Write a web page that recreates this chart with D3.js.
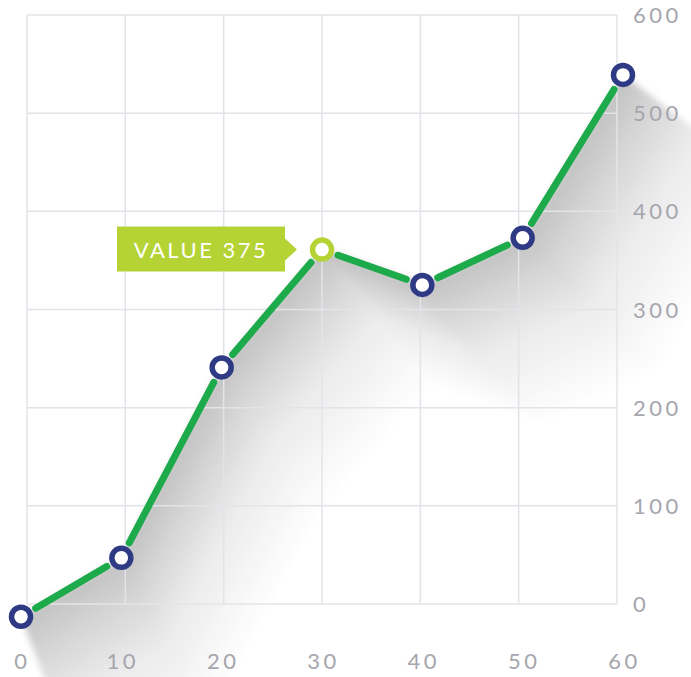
<!DOCTYPE html>
<html>
<head>
<meta charset="utf-8">
<script src="https://cdn.jsdelivr.net/npm/d3@7"></script>
<style>
  body { margin: 0; background: #fff; }
  text { font-family: Lato, "Open Sans", sans-serif; }
</style>
</head>
<body>
<svg id="chart"></svg>
<script>
const xTicks = [0, 10, 20, 30, 40, 50, 60];
const yTicks = [0, 100, 200, 300, 400, 500, 600];
const xValues = [0, 10, 20, 30, 40, 50, 60];
const yValues = [-13, 47, 241, 361, 325, 373, 539];
const highlightIndex = 3;
const tooltipText = "VALUE 375";

const width = 691;
const height = 677;

const svg = d3.select("#chart").attr("width", width).attr("height", height);

svg
  .append("defs")
  .append("filter")
  .attr("id", "soft")
  .attr("x", "-10%").attr("y", "-10%").attr("width", "120%").attr("height", "120%")
  .append("feGaussianBlur")
  .attr("stdDeviation", 3);

// grid sits slightly inside the point/label positions
const gridX = d3.scaleLinear().domain([0, 60]).range([27, 617]);
const xScale = d3.scaleLinear().domain([0, 60]).range([21, 623]);
const yScale = d3.scaleLinear().domain([0, 600]).range([604, 15]);

const pts = xValues.map((x, i) => [xScale(x), yScale(yValues[i])]);

// soft shadow: the line pushed away from a light far top-left
const light = [-519, -790];
const steps = 100;
const reach = 0.13;
const shade = d3
  .scaleLinear()
  .domain([0, 0.2, 0.5, 1])
  .range(["#c2c2c2", "#d5d5d5", "#ececec", "#ffffff"])
  .clamp(true);
const shadowG = svg.append("g").attr("filter", "url(#soft)");
for (let i = steps; i >= 1; i--) {
  const k = (reach * i) / steps;
  const proj = pts.map((p) => [light[0] + (1 + k) * (p[0] - light[0]), light[1] + (1 + k) * (p[1] - light[1])]);
  shadowG
    .append("path")
    .attr("d", d3.line()(proj))
    .attr("fill", "none")
    .attr("stroke", shade(i / steps))
    .attr("stroke-width", 4)
    .attr("stroke-linejoin", "round");
}

// grid
const grid = svg.append("g").attr("stroke", "#e3e3ea").attr("stroke-width", 1.5);
grid
  .selectAll("line.v")
  .data(xTicks)
  .join("line")
  .attr("x1", (d) => gridX(d))
  .attr("x2", (d) => gridX(d))
  .attr("y1", yScale(600))
  .attr("y2", yScale(0));
grid
  .selectAll("line.h")
  .data(yTicks)
  .join("line")
  .attr("x1", gridX(0))
  .attr("x2", gridX(60))
  .attr("y1", (d) => yScale(d))
  .attr("y2", (d) => yScale(d));

// axis labels
svg
  .append("g")
  .selectAll("text")
  .data(yTicks)
  .join("text")
  .attr("x", 633)
  .attr("y", (d) => yScale(d) + 8)
  .attr("fill", "#a6a6ad")
  .attr("font-size", 22)
  .attr("letter-spacing", 3.5)
  .text((d) => d);

svg
  .append("g")
  .selectAll("text")
  .data(xTicks)
  .join("text")
  .attr("x", (d) => xScale(d) + 1.5)
  .attr("y", 669)
  .attr("text-anchor", "middle")
  .attr("fill", "#a6a6ad")
  .attr("font-size", 22)
  .attr("letter-spacing", 3.5)
  .text((d) => d);

// line segments, trimmed so they stop short of the markers
const gap = 17;
const segs = d3.pairs(pts).map(([a, b]) => {
  const dx = b[0] - a[0], dy = b[1] - a[1];
  const len = Math.hypot(dx, dy);
  const ux = dx / len, uy = dy / len;
  return [[a[0] + ux * gap, a[1] + uy * gap], [b[0] - ux * gap, b[1] - uy * gap]];
});
svg
  .append("g")
  .selectAll("line")
  .data(segs)
  .join("line")
  .attr("x1", (d) => d[0][0])
  .attr("y1", (d) => d[0][1])
  .attr("x2", (d) => d[1][0])
  .attr("y2", (d) => d[1][1])
  .attr("stroke", "#1daa4b")
  .attr("stroke-width", 7)
  .attr("stroke-linecap", "round");

// markers
svg
  .append("g")
  .selectAll("circle")
  .data(pts)
  .join("circle")
  .attr("cx", (d) => d[0])
  .attr("cy", (d) => d[1])
  .attr("r", 9.5)
  .attr("fill", "#fff")
  .attr("stroke", (d, i) => (i === highlightIndex ? "#b5d334" : "#2e3a84"))
  .attr("stroke-width", 5.5);

// tooltip
const hp = pts[highlightIndex];
const tipRight = hp[0] - 37;
const tipW = 168, tipH = 45;
const tip = svg.append("g");
tip
  .append("path")
  .attr(
    "d",
    `M${tipRight - tipW},${hp[1] - 23}H${tipRight}V${hp[1] - 11}L${tipRight + 12},${hp[1]}L${tipRight},${hp[1] + 11}V${hp[1] + 22}H${tipRight - tipW}Z`
  )
  .attr("fill", "#b5d334");
tip
  .append("text")
  .attr("x", tipRight - tipW / 2)
  .attr("y", hp[1] + 8)
  .attr("text-anchor", "middle")
  .attr("fill", "#fff")
  .attr("font-size", 22)
  .attr("letter-spacing", 2.5)
  .text(tooltipText);
</script>
</body>
</html>
